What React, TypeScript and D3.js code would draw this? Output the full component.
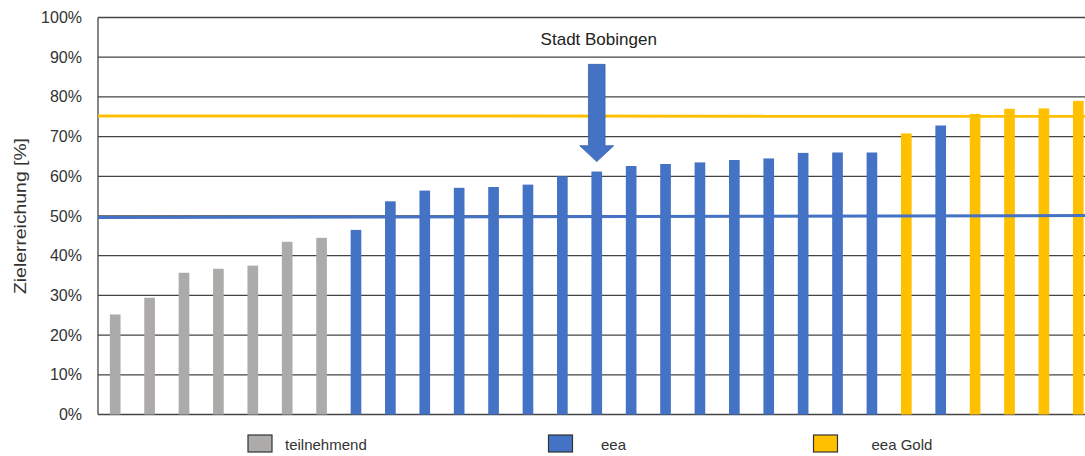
import React, { useEffect, useRef } from "react";
import * as d3 from "d3";

// Zielerreichung je Kommune (sortiert)
const values = [
  25.2, 29.4, 35.7, 36.7, 37.5, 43.5, 44.5,
  46.5, 53.7, 56.4, 57.1, 57.3, 57.9, 60.0, 61.2, 62.6, 63.1, 63.5, 64.1, 64.5, 65.9, 66.0, 66.0,
  70.8, 72.8, 75.7, 77.0, 77.1, 79.0,
];
const groups = [
  "teilnehmend", "teilnehmend", "teilnehmend", "teilnehmend", "teilnehmend", "teilnehmend", "teilnehmend",
  "eea", "eea", "eea", "eea", "eea", "eea", "eea", "eea", "eea", "eea", "eea", "eea", "eea", "eea", "eea", "eea",
  "eea Gold", "eea", "eea Gold", "eea Gold", "eea Gold", "eea Gold",
];
const legendLabels = ["teilnehmend", "eea", "eea Gold"];
const yTicks = [0, 10, 20, 30, 40, 50, 60, 70, 80, 90, 100];
// Schwellen (Start- und Endwert der Linie)
const eeaLine = [49.6, 50.1];
const goldLine = [75.2, 75.1];
const highlightIndex = 14;
const highlightLabel = "Stadt Bobingen";

const colors: Record<string, string> = {
  teilnehmend: "#ADAAAA",
  eea: "#4472C4",
  "eea Gold": "#FFC000",
};

const App = () => {
  const ref = useRef<SVGSVGElement>(null);

  useEffect(() => {
    document.body.style.margin = "0";
    const width = 1085;
    const height = 456;
    const margin = { top: 17.5, left: 98, bottom: 41.5, right: -10.5 };

    const svg = d3.select(ref.current);
    svg.selectAll("*").remove();
    const font = "'Liberation Sans', Arial, sans-serif";

    const x = d3
      .scaleBand<number>()
      .domain(values.map((_, i) => i))
      .range([margin.left, width - margin.right])
      .paddingInner(0.69)
      .paddingOuter(0.345);

    const y = d3
      .scaleLinear()
      .domain([0, 100])
      .range([height - margin.bottom, margin.top]);

    // Gitter
    svg
      .append("g")
      .selectAll("line")
      .data(yTicks)
      .enter()
      .append("line")
      .attr("x1", margin.left)
      .attr("x2", width)
      .attr("y1", (d) => y(d))
      .attr("y2", (d) => y(d))
      .attr("stroke", "#444")
      .attr("stroke-width", 1.3);

    svg
      .append("line")
      .attr("x1", margin.left)
      .attr("x2", margin.left)
      .attr("y1", y(0))
      .attr("y2", y(100))
      .attr("stroke", "#444")
      .attr("stroke-width", 1.3);

    // y-Achse Beschriftung
    svg
      .append("g")
      .selectAll("text")
      .data(yTicks)
      .enter()
      .append("text")
      .text((d) => d + "%")
      .attr("x", margin.left - 16)
      .attr("y", (d) => y(d) + 5.5)
      .attr("text-anchor", "end")
      .attr("font-family", font)
      .attr("font-size", "16px")
      .attr("fill", "#333");

    svg
      .append("text")
      .text("Zielerreichung [%]")
      .attr("transform", `translate(26, ${(y(0) + y(100)) / 2}) rotate(-90)`)
      .attr("text-anchor", "middle")
      .attr("font-family", font)
      .attr("font-size", "17px")
      .attr("textLength", 156)
      .attr("lengthAdjust", "spacingAndGlyphs")
      .attr("fill", "#333");

    // Balken
    svg
      .append("g")
      .selectAll("rect")
      .data(values)
      .enter()
      .append("rect")
      .attr("x", (_, i) => x(i)!)
      .attr("width", x.bandwidth())
      .attr("y", (d) => y(d))
      .attr("height", (d) => y(0) - y(d))
      .attr("fill", (_, i) => colors[groups[i]]);

    // Schwellenlinien
    const lines = [
      { v: goldLine, c: colors["eea Gold"] },
      { v: eeaLine, c: colors.eea },
    ];
    svg
      .append("g")
      .selectAll("line")
      .data(lines)
      .enter()
      .append("line")
      .attr("x1", margin.left)
      .attr("x2", width)
      .attr("y1", (d) => y(d.v[0]))
      .attr("y2", (d) => y(d.v[1]))
      .attr("stroke", (d) => d.c)
      .attr("stroke-width", 3);

    // Pfeil Stadt Bobingen
    const cx = x(highlightIndex)! + x.bandwidth() / 2;
    const v = values[highlightIndex];
    const tip = y(v + 2.5);
    const headTop = y(v + 6.5);
    const top = y(v + 27);
    const sw = 8.3;
    const hw = 17;
    svg
      .append("path")
      .attr(
        "d",
        `M${cx - sw},${top} L${cx + sw},${top} L${cx + sw},${headTop} L${cx + hw},${headTop} L${cx},${tip} L${cx - hw},${headTop} L${cx - sw},${headTop} Z`
      )
      .attr("fill", colors.eea)
      .attr("stroke", "#3A63AE")
      .attr("stroke-width", 0.8);

    svg
      .append("text")
      .text(highlightLabel)
      .attr("x", cx + 2)
      .attr("y", 44.5)
      .attr("text-anchor", "middle")
      .attr("font-family", font)
      .attr("font-size", "17px")
      .attr("fill", "#222");

    // Legende
    const legendX = [248, 548.5, 813.5];
    const lg = svg
      .append("g")
      .selectAll("g")
      .data(legendLabels)
      .enter()
      .append("g")
      .attr("transform", (_, i) => `translate(${legendX[i]}, 435)`);
    lg.append("rect")
      .attr("width", 24)
      .attr("height", 17)
      .attr("fill", (d) => colors[d])
      .attr("stroke", "#333")
      .attr("stroke-width", 1.2);
    lg.append("text")
      .text((d) => d)
      .attr("x", (_, i) => (i === 0 ? 37 : i === 1 ? 52.5 : 58))
      .attr("y", 14.5)
      .attr("font-family", font)
      .attr("font-size", "15px")
      .attr("fill", "#333");
  }, []);

  return <svg ref={ref} width={1085} height={456} style={{ display: "block" }} />;
};

export default App;
